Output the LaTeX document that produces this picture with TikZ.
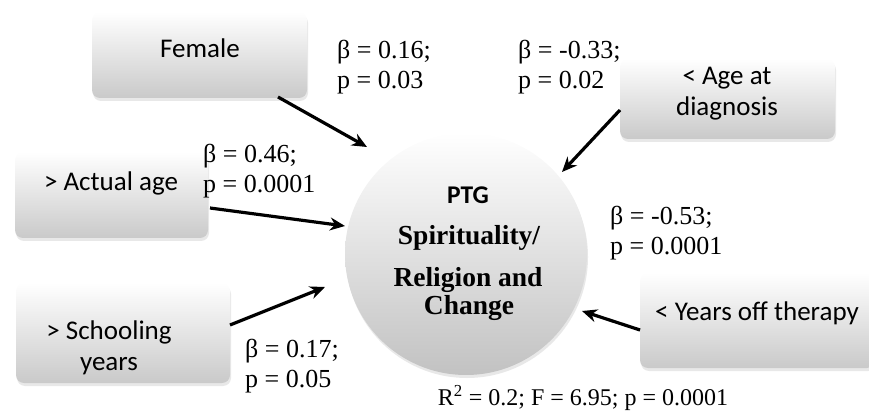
\documentclass[tikz,border=0pt]{standalone}
\usepackage{fontspec}
\setmainfont{Liberation Serif}
\newfontfamily\boxfont{Carlito}
\usetikzlibrary{arrows.meta,shadows}
\begin{document}
\begin{tikzpicture}[x=1pt,y=-1pt,
  factor/.style={rectangle, rounded corners=8pt, top color=white, bottom color=black!21,
    drop shadow={shadow xshift=1pt, shadow yshift=-3pt, opacity=0.15, fill=black!60}, inner sep=0pt},
  factortext/.style={font=\boxfont\fontsize{27}{31}\selectfont, align=center, inner sep=0pt},
  outcome/.style={circle, top color=white, bottom color=black!24,
    drop shadow={shadow xshift=1pt, shadow yshift=-3pt, opacity=0.15, fill=black!60}, inner sep=0pt},
  stat/.style={anchor=west, align=left, inner sep=0pt, font=\fontsize{26}{30}\selectfont},
  link/.style={line width=3.2pt, -{Stealth[length=15pt,width=13pt]}}]
\useasboundingbox (0,0) rectangle (869,419);

% boxes
\node[factor, minimum width=215pt, minimum height=86pt] (fem) at (199.5,55) {};
\node[factor, minimum width=215pt, minimum height=80pt] (age) at (727.5,99) {};
\node[factor, minimum width=193pt, minimum height=86pt] (act) at (111.5,195) {};
\node[factor, minimum width=214pt, minimum height=100pt] (sch) at (123,333) {};
\node[factor, minimum width=235pt, minimum height=95pt] (yrs) at (757.5,320.5) {};

\node[factortext] (femt) at (200,48) {Female};
\node[factortext] (aget) at (727,94) {< Age at\\diagnosis};
\node[factortext] (actt) at (111,183) {> Actual age};
\node[factortext] (scht) at (109,348) {> Schooling\\years};
\node[factortext] (yrst) at (757,313) {< Years off therapy};

% outcome circle
\node[outcome, minimum size=242pt] (ptg) at (466,254) {};
\node[inner sep=0pt, font=\boxfont\bfseries\fontsize{25.5}{28}\selectfont] (ptg1) at (468,195) {PTG};
\node[inner sep=0pt, font=\bfseries\fontsize{27.5}{28}\selectfont] (ptg2) at (469,238) {Spirituality/};
\node[inner sep=0pt, font=\bfseries\fontsize{27.5}{28}\selectfont] (ptg3) at (468,280) {Religion and};
\node[inner sep=0pt, font=\bfseries\fontsize{27.5}{28}\selectfont] (ptg4) at (469,308) {Change};

% connector ends
\coordinate (femo) at (278,97);   \coordinate (femi) at (367,147);
\coordinate (ageo) at (620,110);  \coordinate (agei) at (562,172);
\coordinate (acto) at (210,208);  \coordinate (acti) at (345,226);
\coordinate (scho) at (230,325);  \coordinate (schi) at (325,287);
\coordinate (yrso) at (640,330);  \coordinate (yrsi) at (582,311);

\draw[link] (femo) -- (femi);
\draw[link] (ageo) -- (agei);
\draw[link] (acto) -- (acti);
\draw[link] (scho) -- (schi);
\draw[link] (yrso) -- (yrsi);

% statistics
\node[stat] (s1) at (337,67) {β = 0.16;\\p = 0.03};
\node[stat] (s2) at (518,67) {β = -0.33;\\p = 0.02};
\node[stat] (s3) at (203,171) {β = 0.46;\\p = 0.0001};
\node[stat] (s4) at (610,233) {β = -0.53;\\p = 0.0001};
\node[stat] (s5) at (245,366) {β = 0.17;\\p = 0.05};
\node[inner sep=0pt, font=\fontsize{24}{30}\selectfont] (r2) at (583,398) {R\textsuperscript{2} = 0.2; F = 6.95; p = 0.0001};
\end{tikzpicture}
\end{document}
